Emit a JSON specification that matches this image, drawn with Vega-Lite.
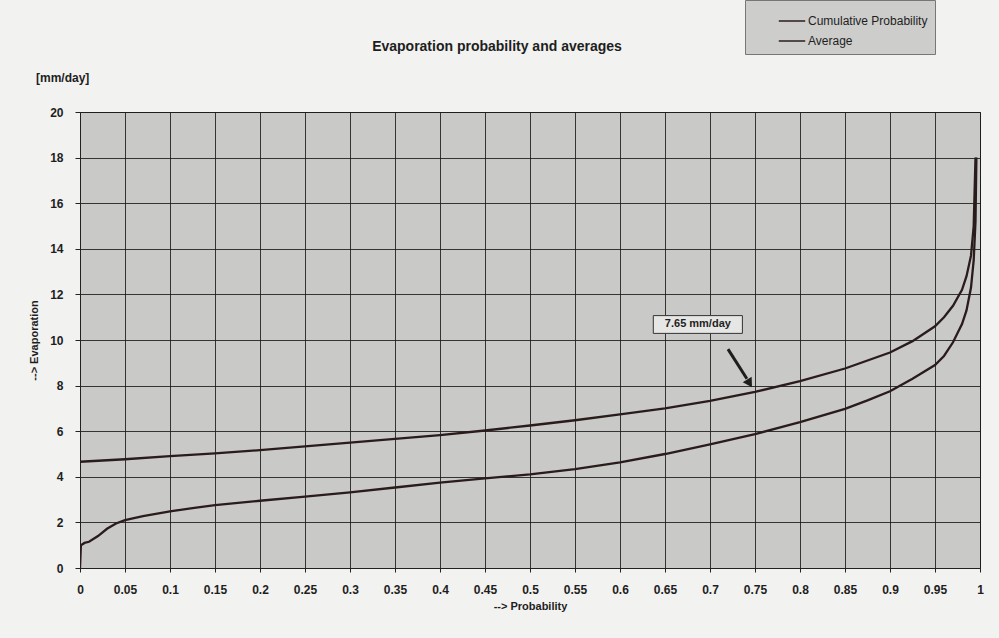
{
  "$schema": "https://vega.github.io/schema/vega-lite/v6.json",
  "width": 900,
  "height": 456,
  "autosize": {"type": "none"},
  "padding": {"left": 80, "top": 112, "right": 19, "bottom": 70},
  "background": "#f2f2f0",
  "title": {"text": "Evaporation probability and averages", "fontSize": 14, "fontWeight": "bold", "font": "Liberation Sans", "color": "#1e1e1e", "offset": -68, "dx": -33, "anchor": "middle", "baseline": "bottom"},
  "config": {"view": {"fill": "#c9c9c7", "stroke": "#3a3a3a", "strokeWidth": 1}, "font": "Liberation Sans"},
  "datasets": {
    "curves": [
      {"p": 0, "value": 0, "series": "Cumulative Probability"},
      {"p": 0.001, "value": 1.0, "series": "Cumulative Probability"},
      {"p": 0.005, "value": 1.1, "series": "Cumulative Probability"},
      {"p": 0.01, "value": 1.15, "series": "Cumulative Probability"},
      {"p": 0.02, "value": 1.4, "series": "Cumulative Probability"},
      {"p": 0.03, "value": 1.72, "series": "Cumulative Probability"},
      {"p": 0.04, "value": 1.95, "series": "Cumulative Probability"},
      {"p": 0.05, "value": 2.1, "series": "Cumulative Probability"},
      {"p": 0.07, "value": 2.28, "series": "Cumulative Probability"},
      {"p": 0.1, "value": 2.48, "series": "Cumulative Probability"},
      {"p": 0.125, "value": 2.63, "series": "Cumulative Probability"},
      {"p": 0.15, "value": 2.76, "series": "Cumulative Probability"},
      {"p": 0.2, "value": 2.95, "series": "Cumulative Probability"},
      {"p": 0.25, "value": 3.13, "series": "Cumulative Probability"},
      {"p": 0.3, "value": 3.32, "series": "Cumulative Probability"},
      {"p": 0.35, "value": 3.53, "series": "Cumulative Probability"},
      {"p": 0.4, "value": 3.74, "series": "Cumulative Probability"},
      {"p": 0.45, "value": 3.93, "series": "Cumulative Probability"},
      {"p": 0.5, "value": 4.11, "series": "Cumulative Probability"},
      {"p": 0.55, "value": 4.34, "series": "Cumulative Probability"},
      {"p": 0.6, "value": 4.63, "series": "Cumulative Probability"},
      {"p": 0.65, "value": 5.0, "series": "Cumulative Probability"},
      {"p": 0.7, "value": 5.42, "series": "Cumulative Probability"},
      {"p": 0.75, "value": 5.87, "series": "Cumulative Probability"},
      {"p": 0.8, "value": 6.4, "series": "Cumulative Probability"},
      {"p": 0.85, "value": 6.98, "series": "Cumulative Probability"},
      {"p": 0.875, "value": 7.35, "series": "Cumulative Probability"},
      {"p": 0.9, "value": 7.75, "series": "Cumulative Probability"},
      {"p": 0.925, "value": 8.3, "series": "Cumulative Probability"},
      {"p": 0.95, "value": 8.9, "series": "Cumulative Probability"},
      {"p": 0.96, "value": 9.3, "series": "Cumulative Probability"},
      {"p": 0.97, "value": 9.9, "series": "Cumulative Probability"},
      {"p": 0.98, "value": 10.7, "series": "Cumulative Probability"},
      {"p": 0.985, "value": 11.3, "series": "Cumulative Probability"},
      {"p": 0.99, "value": 12.3, "series": "Cumulative Probability"},
      {"p": 0.993, "value": 13.5, "series": "Cumulative Probability"},
      {"p": 0.995, "value": 15.2, "series": "Cumulative Probability"},
      {"p": 0.996, "value": 18, "series": "Cumulative Probability"},
      {"p": 0, "value": 4.66, "series": "Average"},
      {"p": 0.05, "value": 4.77, "series": "Average"},
      {"p": 0.1, "value": 4.91, "series": "Average"},
      {"p": 0.15, "value": 5.03, "series": "Average"},
      {"p": 0.2, "value": 5.17, "series": "Average"},
      {"p": 0.25, "value": 5.33, "series": "Average"},
      {"p": 0.3, "value": 5.5, "series": "Average"},
      {"p": 0.35, "value": 5.66, "series": "Average"},
      {"p": 0.4, "value": 5.83, "series": "Average"},
      {"p": 0.45, "value": 6.03, "series": "Average"},
      {"p": 0.5, "value": 6.25, "series": "Average"},
      {"p": 0.55, "value": 6.48, "series": "Average"},
      {"p": 0.6, "value": 6.74, "series": "Average"},
      {"p": 0.65, "value": 7.0, "series": "Average"},
      {"p": 0.7, "value": 7.33, "series": "Average"},
      {"p": 0.75, "value": 7.72, "series": "Average"},
      {"p": 0.8, "value": 8.2, "series": "Average"},
      {"p": 0.85, "value": 8.75, "series": "Average"},
      {"p": 0.9, "value": 9.45, "series": "Average"},
      {"p": 0.925, "value": 9.95, "series": "Average"},
      {"p": 0.95, "value": 10.6, "series": "Average"},
      {"p": 0.96, "value": 11.0, "series": "Average"},
      {"p": 0.97, "value": 11.5, "series": "Average"},
      {"p": 0.98, "value": 12.2, "series": "Average"},
      {"p": 0.985, "value": 12.8, "series": "Average"},
      {"p": 0.99, "value": 13.7, "series": "Average"},
      {"p": 0.993, "value": 15.0, "series": "Average"},
      {"p": 0.995, "value": 18, "series": "Average"}
    ],
    "one": [{}]
  },
  "layer": [
    {
      "data": {"name": "curves"},
      "mark": {"type": "line", "strokeWidth": 2.3, "clip": true},
      "encoding": {
        "x": {
          "field": "p", "type": "quantitative",
          "scale": {"domain": [0, 1], "nice": false, "zero": false},
          "axis": {
            "values": [0, 0.05, 0.1, 0.15, 0.2, 0.25, 0.3, 0.35, 0.4, 0.45, 0.5, 0.55, 0.6, 0.65, 0.7, 0.75, 0.8, 0.85, 0.9, 0.95, 1],
            "format": "~g",
            "title": "--> Probability",
            "titleFontSize": 11, "titleFontWeight": "bold", "titleColor": "#1e1e1e", "titlePadding": 5,
            "labelFontSize": 12, "labelFontWeight": "bold", "labelColor": "#1e1e1e", "labelPadding": 12,
            "labelFlush": false,
            "tickSize": 4, "tickColor": "#222", "domainColor": "#222",
            "grid": true, "gridColor": "#1a1a1a", "gridOpacity": 0.85, "gridWidth": 1
          }
        },
        "y": {
          "field": "value", "type": "quantitative",
          "scale": {"domain": [0, 20], "nice": false},
          "axis": {
            "values": [0, 2, 4, 6, 8, 10, 12, 14, 16, 18, 20],
            "title": "--> Evaporation",
            "titleFontSize": 11, "titleFontWeight": "bold", "titleColor": "#1e1e1e", "titlePadding": 10,
            "labelFontSize": 12, "labelFontWeight": "bold", "labelColor": "#1e1e1e", "labelPadding": 12,
            "tickSize": 5, "tickColor": "#222", "domainColor": "#222",
            "grid": true, "gridColor": "#1a1a1a", "gridOpacity": 0.85, "gridWidth": 1
          }
        },
        "color": {
          "field": "series", "type": "nominal",
          "scale": {"domain": ["Cumulative Probability", "Average"], "range": ["#2a1c1c", "#2a1c1c"]},
          "legend": {
            "title": null, "orient": "none", "legendX": 665, "legendY": -112,
            "fillColor": "#cdcdcb", "strokeColor": "#777", "padding": 7,
            "symbolType": "stroke", "symbolSize": 700, "symbolStrokeWidth": 1.5, "symbolStrokeColor": "#1e1e1e",
            "symbolOffset": 26, "rowPadding": 0,
            "labelFontSize": 12, "labelColor": "#1e1e1e", "labelOffset": 2
          }
        }
      }
    },
    {
      "data": {"name": "one"},
      "mark": {"type": "text", "text": "[mm/day]", "align": "left", "baseline": "middle", "dx": -44, "dy": -34, "fontSize": 12, "fontWeight": "bold", "color": "#1e1e1e", "clip": false},
      "encoding": {"x": {"datum": 0}, "y": {"datum": 20}}
    },
    {
      "data": {"name": "one"},
      "mark": {"type": "rect", "fill": "#e6e6e4", "stroke": "#333", "strokeWidth": 1},
      "encoding": {"x": {"datum": 0.637}, "x2": {"datum": 0.736}, "y": {"datum": 11.07}, "y2": {"datum": 10.29}}
    },
    {
      "data": {"name": "one"},
      "mark": {"type": "text", "text": "7.65 mm/day", "align": "center", "baseline": "middle", "fontSize": 11, "fontWeight": "bold", "color": "#1e1e1e"},
      "encoding": {"x": {"datum": 0.6865}, "y": {"datum": 10.68}}
    },
    {
      "data": {"name": "one"},
      "mark": {"type": "rule", "strokeWidth": 3, "color": "#1e1e1e"},
      "encoding": {"x": {"datum": 0.72}, "y": {"datum": 9.6}, "x2": {"datum": 0.741}, "y2": {"datum": 8.3}}
    },
    {
      "data": {"name": "one"},
      "mark": {"type": "point", "shape": "triangle-up", "angle": 148, "filled": true, "size": 110, "color": "#1e1e1e", "opacity": 1},
      "encoding": {"x": {"datum": 0.744}, "y": {"datum": 8.1}}
    }
  ]
}
